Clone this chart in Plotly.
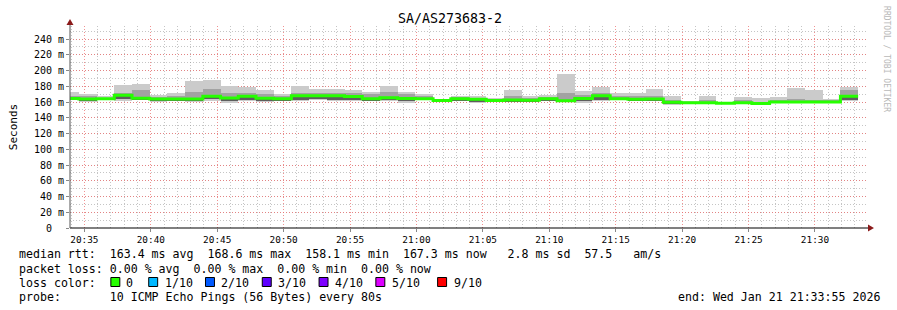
import pandas as pd
import plotly.graph_objects as go

# ---------------- data ----------------
title = "SA/AS273683-2"
start_time = "2026-01-21 20:33:55"
end_time = "2026-01-21 21:33:55"
step_seconds = 80

# per 80 s step: median rtt, max ping, min ping, lower/upper inner smoke (ms)
median_ms = [164.4, 163.8, 164.2, 168.6, 164.8, 163.8, 163.8, 163.8, 167.2, 165.0,
             167.4, 164.8, 164.2, 168.0, 167.8, 168.0, 167.0, 164.2, 165.5, 164.6,
             164.2, 161.8, 164.2, 163.6, 161.8, 162.5, 162.2, 164.2, 161.5, 164.6,
             168.0, 164.2, 163.4, 163.8, 159.6, 159.2, 159.2, 158.3, 159.2, 158.1,
             160.0, 160.0, 160.0, 160.0, 167.3]
max_ms = [172.5, 170.0, 167.4, 181.6, 182.9, 168.6, 171.0, 186.7, 188.0, 180.3,
          179.0, 175.2, 170.8, 180.5, 176.5, 176.5, 175.2, 173.0, 180.5, 173.0,
          170.0, 163.8, 167.6, 167.6, 165.5, 175.2, 167.6, 168.9, 195.6, 174.0,
          179.5, 171.8, 171.0, 176.5, 167.6, 161.7, 168.0, 159.6, 166.4, 164.6,
          166.4, 177.8, 175.2, 164.2, 179.5]
min_ms = [162.0, 160.0, 162.0, 161.7, 162.0, 159.6, 161.0, 159.6, 161.0, 159.2,
          161.0, 159.6, 161.0, 161.0, 162.0, 161.0, 161.0, 161.5, 161.0, 159.0,
          162.0, 160.5, 161.0, 158.3, 160.0, 159.6, 160.5, 161.5, 159.6, 158.3,
          161.0, 162.0, 162.0, 161.0, 156.2, 158.3, 157.5, 157.5, 157.8, 156.5,
          158.5, 158.5, 158.5, 158.5, 160.9]
lo_ms = [163.0, 161.5, 162.8, 164.0, 163.0, 161.5, 162.5, 161.5, 163.5, 161.5,
         162.5, 161.5, 161.8, 162.0, 164.0, 162.5, 162.5, 162.5, 163.0, 161.5,
         163.0, 161.0, 162.5, 160.5, 160.5, 160.5, 161.0, 162.5, 161.0, 161.0,
         162.5, 163.0, 162.5, 162.0, 157.5, 158.6, 158.5, 157.8, 158.5, 157.5,
         159.3, 159.3, 159.5, 159.3, 162.5]
hi_ms = [168.0, 167.0, 165.5, 172.0, 175.0, 166.0, 167.0, 173.0, 176.0, 171.0,
         172.0, 170.0, 168.0, 172.0, 172.0, 172.0, 171.0, 170.0, 173.0, 170.0,
         167.0, 163.0, 166.0, 165.5, 164.0, 168.0, 165.0, 166.5, 172.0, 169.0,
         172.0, 167.0, 167.0, 168.0, 162.0, 160.5, 162.0, 159.0, 163.0, 160.0,
         162.5, 164.0, 163.0, 162.0, 175.0]

y_tick_vals = [0, 20, 40, 60, 80, 100, 120, 140, 160, 180, 200, 220, 240]
y_tick_text = ["0\u00a0\u00a0", "20 m", "40 m", "60 m", "80 m", "100 m", "120 m",
               "140 m", "160 m", "180 m", "200 m", "220 m", "240 m"]

legend_lines = [
    "median rtt:  163.4 ms avg  168.6 ms max  158.1 ms min  167.3 ms now   2.8 ms sd  57.5   am/s",
    "packet loss: 0.00 % avg  0.00 % max  0.00 % min  0.00 % now",
    "loss color:",
    "probe:       10 ICMP Echo Pings (56 Bytes) every 80s",
]
loss_labels = ["0", "1/10", "2/10", "3/10", "4/10", "5/10", "9/10"]
loss_colors = ["#26ff00", "#00b8ff", "#0059ff", "#5e00ff", "#7e00ff", "#dd00ff", "#ff0000"]
end_text = "end: Wed Jan 21 21:33:55 2026"

# ---------------- layout helpers ----------------
W, H = 897, 310
PL, PR, PT, PB = 67, 867, 26, 228   # plot area in pixels


def px(x):
    return (x - PL) / (PR - PL)


def py(y):
    return (PB - y) / (PB - PT)


MONO = "DejaVu Sans Mono"

n = len(median_ms)
centers = pd.date_range(start_time, periods=n, freq=f"{step_seconds}s")
half = pd.Timedelta(seconds=step_seconds / 2)
edges = list(centers - half) + [centers[-1] + half]

fig = go.Figure()

smoke_layers = [
    (min_ms, max_ms, "#cbcbcb"),
    (lo_ms, hi_ms, "#a2a2a2"),
    (lo_ms, median_ms, "#5e5e5e"),
]
for lo_arr, hi_arr, col in smoke_layers:
    fig.add_trace(go.Bar(
        x=centers, base=lo_arr, y=[h - l for l, h in zip(lo_arr, hi_arr)],
        width=step_seconds * 1000, marker=dict(color=col, line=dict(width=0)),
        hoverinfo="skip", showlegend=False))

fig.add_trace(go.Scatter(
    x=edges, y=median_ms + [median_ms[-1]], mode="lines",
    line=dict(color="#26ff00", width=3, shape="hv"),
    showlegend=False, hoverinfo="skip"))

grid_minor = "rgba(150,150,150,0.55)"
grid_major = "rgba(235,110,110,0.75)"

fig.update_layout(
    width=W, height=H,
    margin=dict(l=PL, r=W - PR, t=PT, b=H - PB),
    paper_bgcolor="white", plot_bgcolor="white",
    barmode="overlay", bargap=0,
    font=dict(family=MONO, color="#000000"),
    xaxis=dict(
        type="date", range=[start_time, end_time],
        tickformat="%H:%M", dtick=300000, tick0="2026-01-21 20:35:00",
        showgrid=True, gridcolor=grid_major, griddash="1px,2px", gridwidth=1,
        minor=dict(dtick=60000, tick0="2026-01-21 20:35:00", showgrid=True,
                   gridcolor=grid_minor, griddash="1px,2px", gridwidth=1),
        ticks="outside", ticklen=3, tickcolor="#888888",
        tickfont=dict(family=MONO, size=9.4, color="#000000"),
        showline=False, zeroline=False, fixedrange=True,
    ),
    yaxis=dict(
        range=[0, (PB - PT) / 0.7875],
        tickmode="array", tickvals=y_tick_vals, ticktext=y_tick_text,
        showgrid=True, gridcolor=grid_major, griddash="1px,2px", gridwidth=1,
        minor=dict(dtick=10, showgrid=True, gridcolor=grid_minor,
                   griddash="1px,2px", gridwidth=1),
        ticks="outside", ticklen=3, tickcolor="#888888",
        tickfont=dict(family=MONO, size=10, color="#000000"),
        showline=False, zeroline=False, fixedrange=True,
        title=dict(text="Seconds", font=dict(family=MONO, size=11), standoff=14),
    ),
)

shapes = []
# axis lines
shapes.append(dict(type="line", xref="paper", yref="paper",
                   x0=0, x1=px(869), y0=0, y1=0, line=dict(color="#000000", width=1)))
shapes.append(dict(type="line", xref="paper", yref="paper",
                   x0=0, x1=0, y0=0, y1=py(22), line=dict(color="#555555", width=1)))
# arrow heads
arrow = "#8b1a1a"
shapes.append(dict(type="path", xref="paper", yref="paper",
                   path=f"M {px(868)} {py(224.5)} L {px(874)} {py(228)} L {px(868)} {py(231.5)} Z",
                   fillcolor=arrow, line=dict(color=arrow, width=0)))
shapes.append(dict(type="path", xref="paper", yref="paper",
                   path=f"M {px(63.5)} {py(25)} L {px(67)} {py(19)} L {px(70.5)} {py(25)} Z",
                   fillcolor=arrow, line=dict(color=arrow, width=0)))

# loss color boxes
box_x = [108, 146, 203, 260, 317, 374, 436]
label_x = [121, 160, 217, 274, 331, 388, 450]
for bx, col in zip(box_x, loss_colors):
    shapes.append(dict(type="rect", xref="paper", yref="paper",
                       x0=px(bx), x1=px(bx + 9), y0=py(286.5), y1=py(277.5),
                       fillcolor=col, line=dict(color="#000000", width=1)))
fig.update_layout(shapes=shapes)

ann = []
ann.append(dict(text=title, x=px(448), y=py(19), xref="paper", yref="paper",
                showarrow=False, xanchor="center", yanchor="middle",
                font=dict(family=MONO, size=13.3, color="#000000")))
line_y = [254.5, 268.5, 282.5, 296.5]
for txt, yy in zip(legend_lines, line_y):
    ann.append(dict(text=txt.replace(" ", "\u00a0"), x=px(14), y=py(yy),
                    xref="paper", yref="paper", showarrow=False,
                    xanchor="left", yanchor="middle",
                    font=dict(family=MONO, size=11.6, color="#000000")))
for lx, lab in zip(label_x, loss_labels):
    ann.append(dict(text=lab, x=px(lx), y=py(282.5), xref="paper", yref="paper",
                    showarrow=False, xanchor="left", yanchor="middle",
                    font=dict(family=MONO, size=11.6, color="#000000")))
ann.append(dict(text=end_text, x=px(882), y=py(296.5), xref="paper", yref="paper",
                showarrow=False, xanchor="right", yanchor="middle",
                font=dict(family=MONO, size=11.6, color="#000000")))
ann.append(dict(text="RRDTOOL / TOBI OETIKER", x=px(887), y=py(59),
                xref="paper", yref="paper", showarrow=False, textangle=90,
                xanchor="center", yanchor="middle",
                font=dict(family=MONO, size=8, color="#b8b8b8")))
fig.update_layout(annotations=ann)

fig.write_html("out.html", config=dict(displayModeBar=False))
